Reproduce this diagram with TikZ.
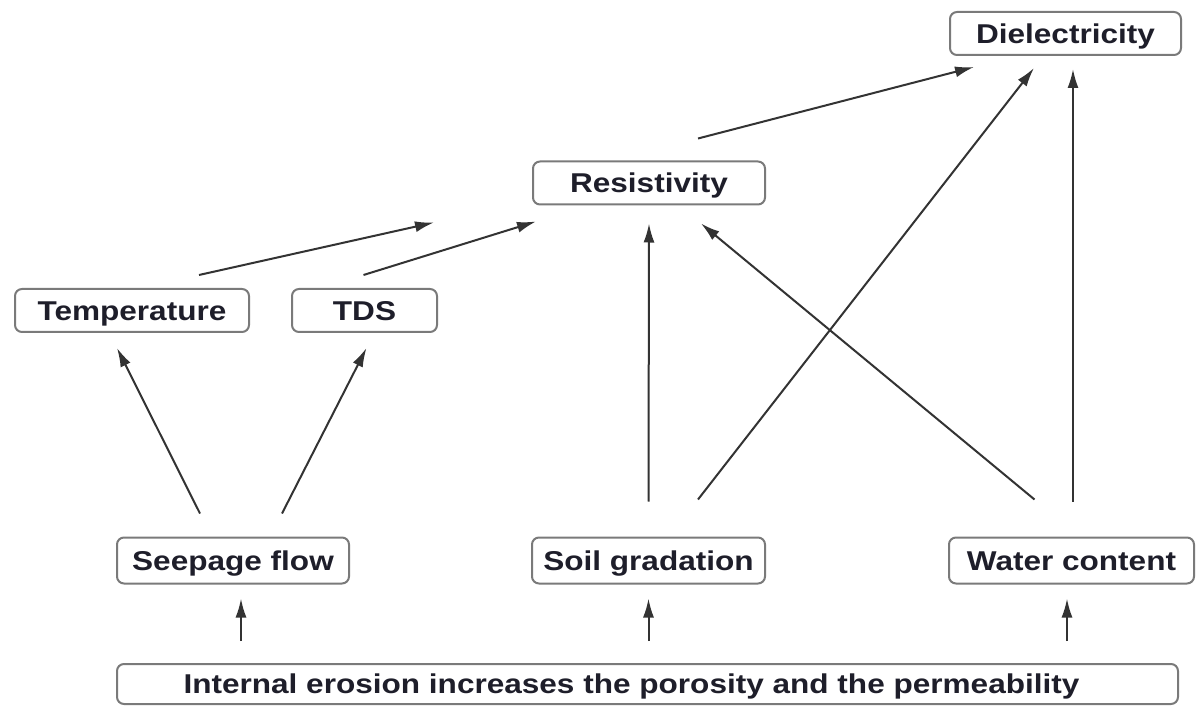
\documentclass[tikz,border=0pt]{standalone}
\usepackage{fontspec}
\newfontfamily\lblfont{Liberation Sans}[FakeStretch=1.16]
\usetikzlibrary{arrows.meta,calc}
\definecolor{boxgray}{HTML}{7A7A7A}
\definecolor{arrgray}{HTML}{333333}
\definecolor{txtcol}{HTML}{1E1E2A}
\tikzset{
  lbox/.style={draw=boxgray, line width=1pt, rounded corners=3.5pt, fill=white,
    inner sep=0pt, minimum height=21.5pt, text=txtcol, text height=9.7pt, text depth=0pt,
    font=\lblfont\fontsize{13.6}{16}\selectfont\bfseries},
  arr/.style={draw=arrgray, line width=1pt, -{Latex[length=9.5pt,width=5.5pt]}},
}
\begin{document}
\begin{tikzpicture}[x=0.5pt,y=-0.5pt]
\useasboundingbox (0,0) rectangle (1196,706);
% nodes
\node[lbox, minimum width=115.5pt] (diel) at (1065.5,33.5) {Dielectricity};
\node[lbox, minimum width=116pt] (res) at (649,183) {Resistivity};
\node[lbox, minimum width=117pt] (temp) at (132,310.5) {Temperature};
\node[lbox, minimum width=72.5pt] (tds) at (364.5,310.5) {TDS};
\node[lbox, minimum width=116pt, minimum height=23pt] (seep) at (233,560.5) {Seepage flow};
\node[lbox, minimum width=116.5pt, minimum height=23pt] (soil) at (648.5,560.5) {Soil gradation};
\node[lbox, minimum width=122.5pt, minimum height=23pt] (water) at (1071.5,560.5) {Water content};
\node[lbox, minimum width=530.5pt, minimum height=20pt] (bottom) at (647.5,684) {Internal erosion increases the porosity and the permeability\kern16pt};
% connectors
\draw[arr] ($(seep.north)+(-33,-23)$) -- ($(temp.south)+(-15,15)$);
\draw[arr] ($(seep.north)+(49,-23)$) -- ($(tds.south)+(2,15)$);
\draw[arr] ($(temp.north)+(67,-13)$) -- ($(res.south)+(-215,17)$);
\draw[arr] ($(tds.north)+(-1,-13)$) -- ($(res.south)+(-113,16)$);
\draw[arr] ($(res.north)+(49,-22)$) -- ($(diel.south)+(-91.5,11)$);
\draw[arr] ($(soil.north)+(0,-35)$) -- ($(res.south)+(0,18)$);
\draw[arr] ($(soil.north)+(49.5,-37)$) -- ($(diel.south)+(-31.5,12)$);
\draw[arr] ($(water.north)+(-37,-37)$) -- ($(res.south)+(52,18)$);
\draw[arr] ($(water.north)+(1.5,-35)$) -- ($(diel.south)+(7.5,13)$);
\draw[arr] ($(bottom.north -| seep.south)+(8,-22)$) -- ($(seep.south)+(8,14)$);
\draw[arr] ($(bottom.north -| soil.south)+(0,-22)$) -- ($(soil.south)+(0,14)$);
\draw[arr] ($(bottom.north -| water.south)+(-4.5,-22)$) -- ($(water.south)+(-4.5,14)$);
\end{tikzpicture}
\end{document}
